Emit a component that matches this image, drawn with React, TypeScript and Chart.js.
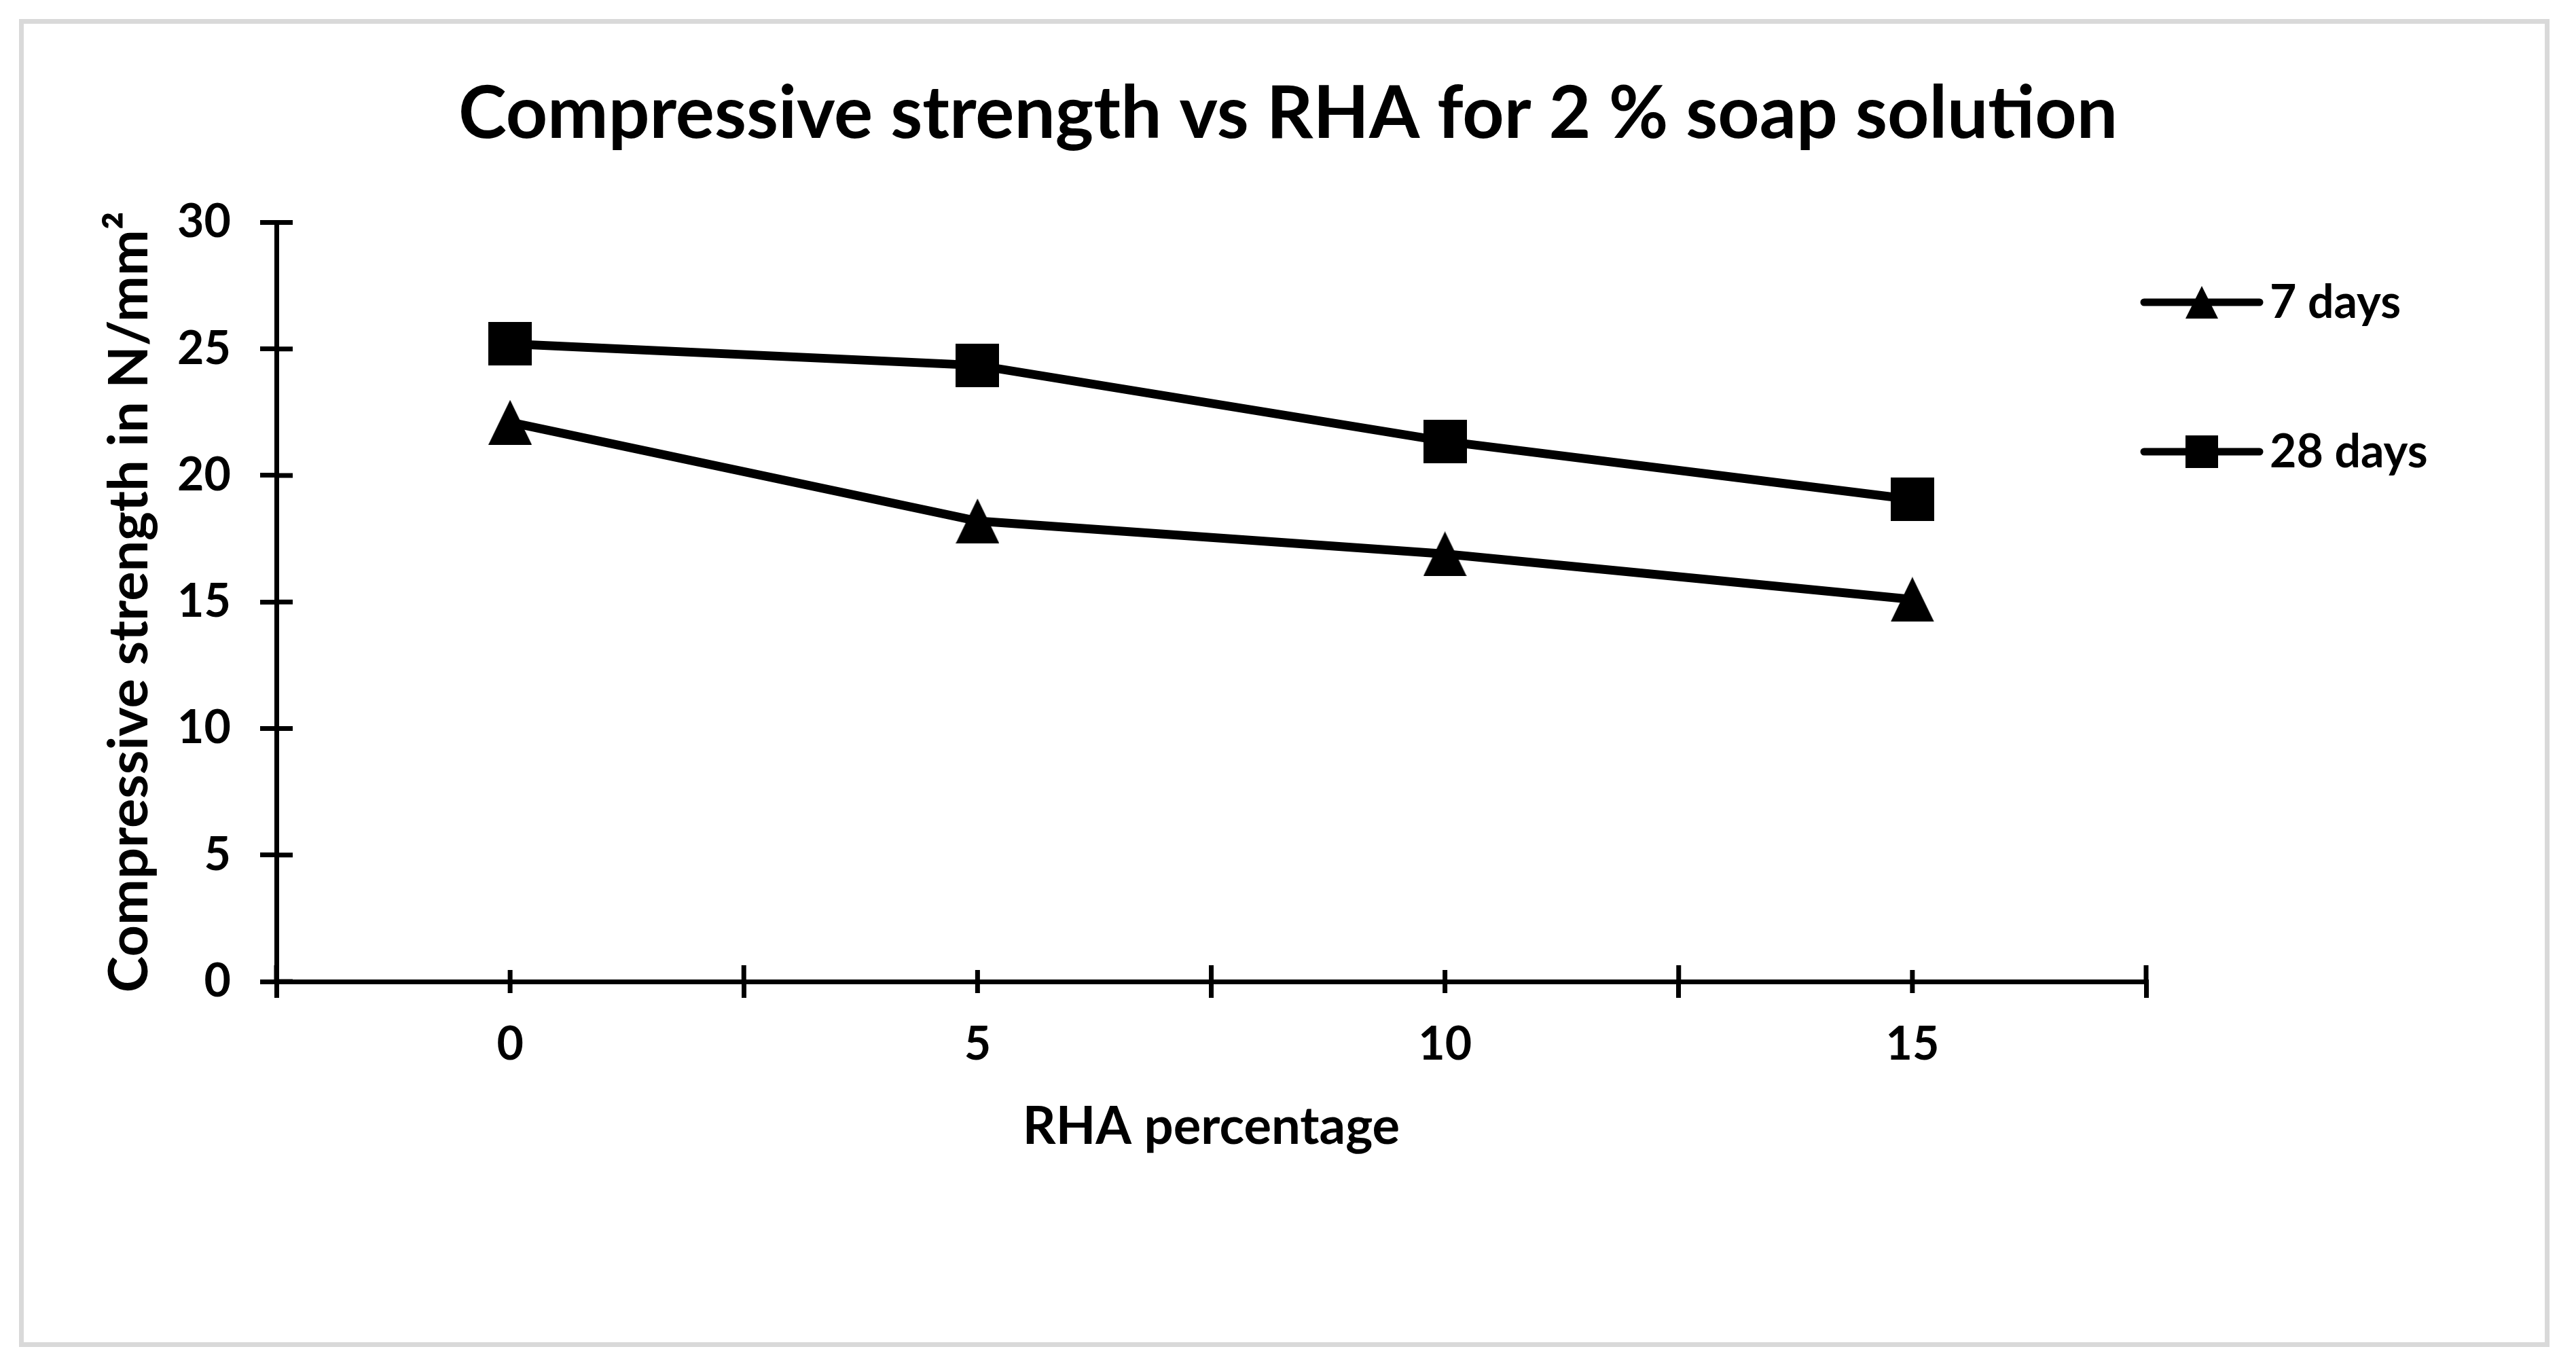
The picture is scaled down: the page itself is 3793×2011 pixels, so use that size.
import React, { useEffect, useRef } from 'react';
import { Chart, registerables } from 'chart.js';

Chart.register(...registerables);

// ---- data ----
const categories = ['0', '5', '10', '15'];
const sevenDays = [22.1, 18.2, 16.9, 15.1];
const twentyEightDays = [25.2, 24.35, 21.35, 19.05];
const seriesLabels = ['7 days', '28 days'];
const yMin = 0;
const yMax = 30;
const yStep = 5;
const titleText = 'Compressive strength vs RHA for 2 % soap solution';
const xTitleText = 'RHA percentage';
const yTitleText = 'Compressive strength in N/mm²';

// ---- layout / style ----
const W = 3793;
const H = 2011;
const FONT = 'Lato, "Open Sans", sans-serif';
const LEGEND = { x0: 3157, x1: 3327, textX: 3342, ys: [445, 665], fontSize: 68 };

function makeMarker(kind: string, w: number, h: number): HTMLCanvasElement {
  const c = document.createElement('canvas');
  c.width = w;
  c.height = h;
  const ctx = c.getContext('2d')!;
  ctx.fillStyle = '#000';
  if (kind === 'triangle') {
    ctx.beginPath();
    ctx.moveTo(w / 2, 0);
    ctx.lineTo(w, h);
    ctx.lineTo(0, h);
    ctx.closePath();
    ctx.fill();
  } else {
    ctx.fillRect(0, 0, w, h);
  }
  return c;
}

export default function App() {
  const ref = useRef<HTMLCanvasElement | null>(null);

  useEffect(() => {
    if (!ref.current) return;
    const triPlot = makeMarker('triangle', 64, 66);
    const sqPlot = makeMarker('square', 64, 64);
    const triLeg = makeMarker('triangle', 48, 48);
    const sqLeg = makeMarker('square', 48, 48);
    const legendMarkers = [triLeg, sqLeg];

    const extraTicks = {
      id: 'extraTicks',
      afterDraw(chart: any) {
        const ctx = chart.ctx;
        const { left, bottom } = chart.chartArea;
        const xs = chart.scales.x;
        const ys = chart.scales.y;
        ctx.save();
        ctx.strokeStyle = '#000';
        ctx.lineWidth = 7;
        ctx.beginPath();
        ys.ticks.forEach((_t: any, i: number) => {
          const y = ys.getPixelForTick(i);
          ctx.moveTo(left, y);
          ctx.lineTo(left + 24, y);
        });
        for (let k = 0; k <= categories.length; k++) {
          const x = xs.getPixelForValue(k - 0.5);
          ctx.moveTo(x, bottom);
          ctx.lineTo(x, bottom - 24);
        }
        categories.forEach((_c, i) => {
          const x = xs.getPixelForValue(i);
          ctx.moveTo(x, bottom - 17);
          ctx.lineTo(x, bottom + 17);
        });
        ctx.stroke();
        ctx.restore();
      },
    };

    const excelLegend = {
      id: 'excelLegend',
      afterDraw(chart: any) {
        const ctx = chart.ctx;
        chart.data.datasets.forEach((ds: any, i: number) => {
          const y = LEGEND.ys[i];
          ctx.save();
          ctx.strokeStyle = '#000';
          ctx.lineWidth = 11;
          ctx.lineCap = 'round';
          ctx.beginPath();
          ctx.moveTo(LEGEND.x0, y);
          ctx.lineTo(LEGEND.x1, y);
          ctx.stroke();
          const m = legendMarkers[i];
          ctx.drawImage(m, (LEGEND.x0 + LEGEND.x1) / 2 - m.width / 2, y - m.height / 2);
          ctx.font = `bold ${LEGEND.fontSize}px ${FONT}`;
          ctx.fillStyle = '#000';
          ctx.textBaseline = 'alphabetic';
          ctx.textAlign = 'left';
          ctx.fillText(ds.label, LEGEND.textX, y + 23);
          ctx.restore();
        });
      },
    };

    const tickFont = { family: FONT, size: 68, weight: 'bold' as const };
    const xTitleFont = { family: FONT, size: 76, weight: 'bold' as const };
    const yTitleFont = { family: FONT, size: 81, weight: 'bold' as const };

    const chart = new Chart(ref.current, {
      type: 'line',
      data: {
        labels: categories,
        datasets: [
          {
            label: seriesLabels[0],
            data: sevenDays,
            borderColor: '#000',
            backgroundColor: '#000',
            borderWidth: 13,
            pointStyle: triPlot as any,
            pointRadius: 32,
            tension: 0,
          },
          {
            label: seriesLabels[1],
            data: twentyEightDays,
            borderColor: '#000',
            backgroundColor: '#000',
            borderWidth: 13,
            pointStyle: sqPlot as any,
            pointRadius: 32,
            tension: 0,
          },
        ],
      },
      options: {
        animation: false,
        responsive: false,
        devicePixelRatio: 1,
        layout: { padding: { left: 0, right: 0, top: 0, bottom: 266 } },
        plugins: {
          legend: { display: false },
          tooltip: { enabled: false },
          title: {
            display: true,
            text: titleText,
            color: '#000',
            font: { family: FONT, size: 107, weight: 'bold' },
            padding: { top: 104, bottom: 95 },
          },
        },
        scales: {
          x: {
            type: 'category',
            offset: true,
            grid: {
              display: true,
              offset: true,
              drawOnChartArea: false,
              drawTicks: true,
              tickLength: 24,
              lineWidth: 7,
              color: '#000',
            },
            border: { display: true, color: '#000', width: 7 },
            ticks: { color: '#000', font: tickFont, padding: 28, maxRotation: 0, autoSkip: false },
            title: {
              display: true,
              text: xTitleText,
              color: '#000',
              font: xTitleFont,
              padding: { top: 0, bottom: 40 },
            },
            afterFit: (s: any) => {
              s.height = 300;
            },
          },
          y: {
            min: yMin,
            max: yMax,
            grid: {
              display: true,
              drawOnChartArea: false,
              drawTicks: true,
              tickLength: 24,
              lineWidth: 7,
              color: '#000',
            },
            border: { display: true, color: '#000', width: 7 },
            ticks: { stepSize: yStep, color: '#000', font: tickFont, padding: 43 },
            title: {
              display: true,
              text: yTitleText,
              color: '#000',
              font: yTitleFont,
              padding: { top: 142, bottom: 0 },
            },
            afterFit: (s: any) => {
              s.width = 407;
            },
          },
          // empty right-hand band that holds the legend area
          legendSpace: {
            type: 'linear',
            position: 'right',
            display: true,
            grid: { display: false, drawTicks: false },
            ticks: { display: false },
            border: { display: false },
            title: { display: false },
            afterFit: (s: any) => {
              s.width = 633;
            },
          },
        },
      },
      plugins: [extraTicks, excelLegend],
    });
    return () => chart.destroy();
  }, []);

  return (
    <div style={{ position: 'absolute', left: 0, top: 0, width: W, height: H, background: '#fff' }}>
      <canvas ref={ref} width={W} height={H} style={{ display: 'block', width: W, height: H }} />
      <div
        style={{
          position: 'absolute',
          left: 28,
          top: 28,
          width: 3726,
          height: 1955,
          border: '7px solid #D9D9D9',
          boxSizing: 'border-box',
          pointerEvents: 'none',
        }}
      />
    </div>
  );
}
